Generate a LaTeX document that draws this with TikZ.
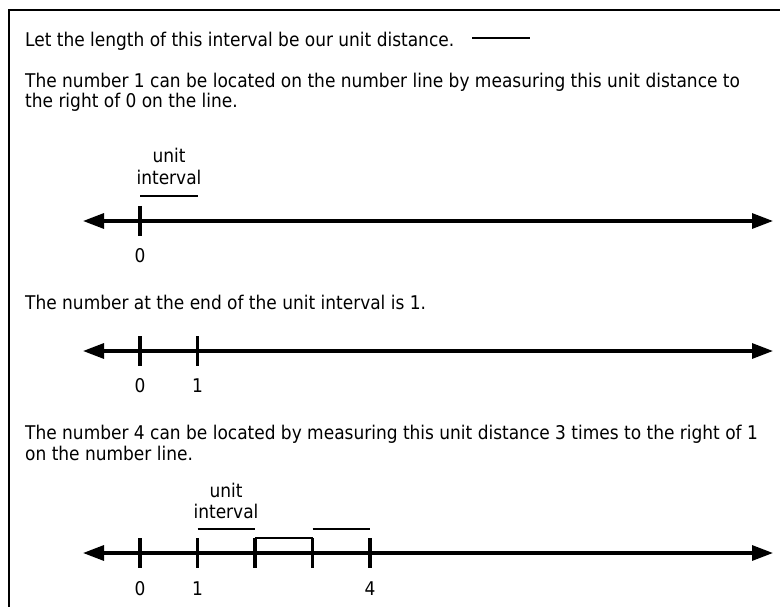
\documentclass[tikz,border=0pt]{standalone}
\usepackage{fontspec}
\setmainfont{DejaVu Sans Condensed}
\usetikzlibrary{positioning, arrows.meta}

\begin{document}
\begin{tikzpicture}[
    x=1pt, y=-1pt,
    >={Triangle[length=21pt, width=15pt]},
    txt/.style={anchor=base west, inner sep=0pt, font=\fontsize{18.9}{21}\selectfont},
    lbl/.style={anchor=base, inner sep=0pt, font=\fontsize{18.9}{21}\selectfont},
    axis/.style={line width=3.2pt, <->},
    tickmark/.style={line width=3.2pt},
    unitbar/.style={line width=2pt}
]
    \useasboundingbox (0,0) rectangle (780,607);
    \fill[white] (0,0) rectangle (780,607);

    % Frame: top and left edges
    \coordinate (fb) at (9,607);
    \coordinate (fc) at (9,10);
    \coordinate (fr) at (780,10);
    \draw[line width=2pt] (fb) -- (fc) -- (fr);

    % Opening sentences
    \node[txt] (s1) at (25,46.5) {Let the length of this interval be our unit distance.};
    \coordinate (d0) at (472,38.5);
    \coordinate (d1) at (530,38.5);
    \draw[unitbar] (d0) -- (d1);
    \node[txt] (s2) at (25,88) {The number 1 can be located on the number line by measuring this unit distance to};
    \node[txt] (s3) at (25,108) {the right of 0 on the line.};

    % First number line: 0 and the unit interval
    \coordinate (la) at (83,221);
    \coordinate (ra) at (773,221);
    \draw[axis] (la) -- (ra);
    \coordinate (a0t) at (140,206);
    \coordinate (a0b) at (140,236);
    \draw[tickmark] (a0t) -- (a0b);
    \node[lbl] (na0) at (140,262) {0};
    \node[lbl] (ua) at (169,163) {unit};
    \node[lbl] (ia) at (169,185) {interval};
    \coordinate (ba0) at (140,196);
    \coordinate (ba1) at (198,196);
    \draw[unitbar] (ba0) -- (ba1);

    % Second number line: 0 and 1
    \node[txt] (s4) at (25,309) {The number at the end of the unit interval is 1.};
    \coordinate (lb) at (83,351);
    \coordinate (rb) at (773,351);
    \draw[axis] (lb) -- (rb);
    \coordinate (b0t) at (140,336);
    \coordinate (b0b) at (140,366);
    \coordinate (b1t) at (197.5,336);
    \coordinate (b1b) at (197.5,366);
    \draw[tickmark] (b0t) -- (b0b);
    \draw[tickmark] (b1t) -- (b1b);
    \node[lbl] (nb0) at (140,392) {0};
    \node[lbl] (nb1) at (197.5,392) {1};

    % Third number line: stepping from 1 to 4
    \node[txt] (s5) at (25,439) {The number 4 can be located by measuring this unit distance 3 times to the right of 1};
    \node[txt] (s6) at (25,460) {on the number line.};
    \coordinate (lc) at (83,553);
    \coordinate (rc) at (773,553);
    \draw[axis] (lc) -- (rc);
    \coordinate (c0t) at (140,538);
    \coordinate (c0b) at (140,568);
    \coordinate (c1t) at (197.5,538);
    \coordinate (c1b) at (197.5,568);
    \coordinate (c2t) at (255,538);
    \coordinate (c2b) at (255,568);
    \coordinate (c3t) at (312.5,538);
    \coordinate (c3b) at (312.5,568);
    \coordinate (c4t) at (370,538);
    \coordinate (c4b) at (370,568);
    \draw[tickmark] (c0t) -- (c0b);
    \draw[tickmark] (c1t) -- (c1b);
    \draw[tickmark] (c2t) -- (c2b);
    \draw[tickmark] (c3t) -- (c3b);
    \draw[tickmark] (c4t) -- (c4b);
    \draw[unitbar] (c2t) -- (c3t);
    \node[lbl] (nc0) at (140,595) {0};
    \node[lbl] (nc1) at (197.5,595) {1};
    \node[lbl] (nc4) at (370,595) {4};
    \node[lbl] (uc) at (226,497) {unit};
    \node[lbl] (ic) at (226,518) {interval};
    \coordinate (bc0) at (197.5,529);
    \coordinate (bc1) at (255,529);
    \coordinate (bc2) at (312.5,529);
    \coordinate (bc3) at (370,529);
    \draw[unitbar] (bc0) -- (bc1);
    \draw[unitbar] (bc2) -- (bc3);
\end{tikzpicture}
\end{document}
